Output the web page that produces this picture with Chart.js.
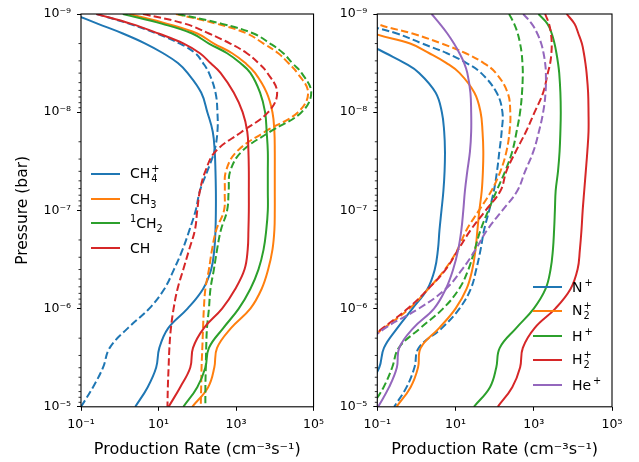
<!DOCTYPE html>
<html>
<head>
<meta charset="utf-8">
<script src="https://cdn.jsdelivr.net/npm/chart.js@4/dist/chart.umd.min.js"></script>
<style>
  body { margin: 0; background: #fff; }
  #wrap { position: relative; width: 639px; height: 462px; background: #fff; overflow: hidden; }
  canvas { position: absolute; top: 0; }
  .legend { position: absolute; font-family: 'DejaVu Sans', sans-serif; font-size: 14px; color: #000; }
  .legend .row { display: flex; align-items: center; height: 24.5px; white-space: nowrap; }
  .legend .swatch { width: 29px; height: 2px; margin-right: 10px; }
  .legend sub, .legend sup { font-size: 0.7em; line-height: 0; }
  .st { display: inline-flex; flex-direction: column; vertical-align: middle; font-size: 0.7em; line-height: 1; margin-left: 1px; }
  .st span { display: block; }
</style>
</head>
<body>
<div id="wrap">
  <canvas id="left" width="330" height="462" style="left:0"></canvas>
  <canvas id="right" width="309" height="462" style="left:330px"></canvas>
  <div id="legend-left" class="legend" style="left:91px; top:161.75px"></div>
  <div id="legend-right" class="legend" style="left:533px; top:274.25px"></div>
</div>
<script>
// pressure levels (bar) where the curves were read
const pressure = [1e-9, 1.26e-9, 1.58e-9, 2e-9, 2.51e-9, 3.16e-9, 3.98e-9, 6.31e-9, 1e-8, 1.58e-8, 2.51e-8, 3.98e-8,
                  6.31e-8, 1e-7, 1.58e-7, 2.51e-7, 3.98e-7, 6.31e-7, 1e-6, 1.58e-6, 2.51e-6, 3.98e-6, 6.31e-6, 1e-5];

// left panel, production rates (cm^-3 s^-1)
const ch4pSolid  = [0.063, 0.275, 1.2, 4.57, 13.2, 31.6, 56, 126, 182, 251, 282, 295, 302, 302, 295, 275, 229, 141, 56, 17.8, 10.5, 8.7, 5.25, 2.51];
const ch4pDashed = [0.25, 1.78, 8.9, 35.5, 89, 141, 200, 295, 331, 331, 275, 182, 117, 91, 63, 41.7, 25.1, 14.1, 5.75, 1.62, 0.55, 0.37, 0.204, 0.1];
const ch3Solid   = [1.78, 17, 100, 269, 794, 1740, 3090, 6170, 8710, 9770, 10000, 10000, 10000, 10000, 9770, 8710, 6760, 4570, 2340, 741, 324, 275, 191, 74];
const ch3Dashed  = [28.2, 324, 1905, 5130, 12300, 22400, 38000, 72400, 39800, 5620, 1050, 550, 513, 490, 309, 240, 200, 162, 148, 141, 135, 129, 126, 123];
const ch2Solid   = [1.2, 12.6, 74, 200, 589, 1290, 2340, 4170, 5620, 6170, 6610, 6610, 6610, 6610, 6030, 5130, 3800, 2340, 1175, 468, 200, 162, 100, 43.7];
const ch2Dashed  = [31.6, 437, 2820, 7590, 16600, 28200, 49000, 87100, 49000, 7590, 1410, 708, 646, 589, 407, 324, 269, 219, 200, 178, 170, 166, 162, 162];
const chSolid    = [0.25, 2.0, 10, 44.7, 117, 219, 398, 871, 1480, 1950, 2090, 2140, 2140, 2140, 2090, 2000, 1660, 955, 437, 148, 77.6, 66, 36.3, 18.2];
const chDashed   = [3.98, 50, 200, 708, 1905, 3800, 6460, 11500, 6760, 1410, 295, 162, 117, 100, 87, 61.7, 43.7, 30.9, 24.5, 20.9, 19.1, 18.2, 17.4, 17.0];

// right panel
const npSolid    = [0.001, 0.005, 0.02, 0.056, 0.166, 0.5, 1.17, 3.09, 4.47, 5.13, 5.37, 5.25, 4.9, 4.37, 3.89, 3.55, 2.95, 1.91, 0.79, 0.324, 0.148, 0.112, 0.056, 0.025];
const npDashed   = [0.0063, 0.04, 0.316, 1.41, 6.03, 19.1, 44.7, 112, 158, 151, 132, 115, 95.5, 72.4, 53.7, 43.7, 33.9, 24.5, 12.6, 4.47, 1.15, 0.89, 0.56, 0.27];
const n2pSolid   = [0.0063, 0.025, 0.083, 0.69, 2.14, 5.89, 12.6, 30.2, 43.7, 49, 51.3, 50.1, 46.8, 40.7, 36.3, 32.4, 26.9, 19.1, 10, 3.8, 1.29, 1.1, 0.71, 0.31];
const n2pDashed  = [0.04, 0.1, 0.79, 4.47, 18.2, 52.5, 107, 214, 251, 240, 200, 141, 83, 39.8, 19.1, 11.2, 5.37, 2.0, 0.66, 0.148, 0.032, 0.01, 0.0032, 0.001];
const hpSolid    = [1320, 2240, 2880, 3390, 3800, 4170, 4470, 4790, 4900, 4790, 4570, 4170, 3630, 3470, 3310, 3090, 2690, 2000, 1000, 355, 135, 110, 76, 29.5];
const hpDashed   = [234, 316, 389, 447, 490, 513, 525, 501, 447, 363, 282, 186, 112, 69, 43.7, 30.9, 21.4, 12.3, 4.79, 1.26, 0.355, 0.24, 0.145, 0.071];
const h2pSolid   = [6920, 11000, 13800, 17000, 19100, 20900, 22400, 24500, 25100, 25100, 23400, 21400, 19500, 17800, 16600, 15100, 13200, 8710, 3550, 1050, 525, 447, 282, 120];
const h2pDashed  = [1950, 2450, 2750, 2880, 2820, 2630, 2290, 1740, 1050, 631, 347, 200, 141, 58.9, 24.5, 11.7, 5.62, 2.0, 0.6, 0.138, 0.032, 0.01, 0.0032, 0.001];
const hepSolid   = [2.45, 3.98, 6.17, 9.12, 12.6, 16.6, 20, 24, 25.1, 25.1, 23.4, 20, 17.4, 15.8, 14.1, 11.7, 8.71, 5.62, 2.82, 0.83, 0.363, 0.316, 0.2, 0.105];
const hepDashed  = [537, 891, 1230, 1550, 1780, 1950, 2040, 2000, 1740, 1350, 977, 603, 380, 158, 64.6, 32.4, 14.8, 5.62, 1.15, 0.158, 0.04, 0.0126, 0.004, 0.0013];

// axes
const xTicks = [0.1, 10, 1000, 100000];
const xTickLabels = ['10⁻¹', '10¹', '10³', '10⁵'];
const yTicks = [1e-9, 1e-8, 1e-7, 1e-6, 1e-5];
const yTickLabels = ['10⁻⁹', '10⁻⁸', '10⁻⁷', '10⁻⁶', '10⁻⁵'];

const leftNames  = ['CH₄⁺', 'CH₃', '¹CH₂', 'CH'];
const leftMarkup = ['CH<span class="st"><span>+</span><span>4</span></span>', 'CH<sub>3</sub>', '<sup>1</sup>CH<sub>2</sub>', 'CH'];
const rightNames  = ['N⁺', 'N₂⁺', 'H⁺', 'H₂⁺', 'He⁺'];
const rightMarkup = ['N<sup>&thinsp;+</sup>', 'N<span class="st"><span>+</span><span>2</span></span>', 'H<sup>&thinsp;+</sup>',
                     'H<span class="st"><span>+</span><span>2</span></span>', 'He<sup>&thinsp;+</sup>'];

const blue = '#1f77b4', orange = '#ff7f0e', green = '#2ca02c', red = '#d62728', purple = '#9467bd';

Chart.defaults.font.family = "'DejaVu Sans', sans-serif";
Chart.defaults.color = '#000';

function curve(label, rates, color, dash) {
   return {
      label: label,
      data: rates.map((r, i) => ({ x: r, y: pressure[i] })),
      borderColor: color,
      backgroundColor: color,
      borderWidth: 2,
      borderDash: dash,
      pointRadius: 0,
      fill: false,
      tension: 0.4,
      clip: 0
   };
}

function buildSets(names, colors, solids, dashes) {
   var sets = [];
   for (let i = 0; i < names.length; i++) {
      sets.push(curve(names[i], solids[i], colors[i], []));
      sets.push(curve(names[i] + ' (dashed)', dashes[i], colors[i], [7.5, 3.3]));
   }
   // later curves on top, like matplotlib
   sets.forEach((s, i) => { s.order = -i; });
   return sets;
}

// full box and minor y ticks
var framePlugin = {
   id: 'frame',
   afterDraw(chart) {
      var ctx = chart.ctx, a = chart.chartArea, y = chart.scales.y;
      ctx.save();
      ctx.strokeStyle = '#000';
      ctx.lineWidth = 0.8;
      for (let e = -9; e < -5; e++) {
         for (let m = 2; m < 10; m++) {
            let py = y.getPixelForValue(m * Math.pow(10, e));
            ctx.beginPath();
            ctx.moveTo(a.left - 2.5, py);
            ctx.lineTo(a.left, py);
            ctx.stroke();
         }
      }
      ctx.lineWidth = 1.1;
      ctx.strokeRect(a.left, a.top, a.right - a.left, a.bottom - a.top);
      ctx.restore();
   }
};

function makeOptions(showYTitle, yWidth, padRight) {
   return {
      responsive: false,
      devicePixelRatio: 1,
      animation: false,
      indexAxis: 'y',
      layout: { padding: { left: 0, right: padRight, top: 14, bottom: 0 } },
      plugins: { legend: { display: false }, tooltip: { enabled: false } },
      scales: {
         x: {
            type: 'logarithmic',
            position: 'bottom',
            min: 0.1,
            max: 100000,
            afterBuildTicks: (s) => { s.ticks = xTicks.map(v => ({ value: v })); },
            afterFit: (s) => { s.height = 55.2; },
            ticks: {
               autoSkip: false, maxRotation: 0, padding: 6,
               font: { size: 12.5 }, color: '#000',
               callback: (v, i) => xTickLabels[i]
            },
            grid: { drawOnChartArea: false, drawTicks: true, tickLength: 4, tickColor: '#000', tickWidth: 1 },
            border: { display: false },
            title: {
               display: true,
               text: 'Production Rate (cm⁻³s⁻¹)',
               font: { size: 16 }, color: '#000',
               padding: { top: 0, bottom: 3 }
            }
         },
         y: {
            type: 'logarithmic',
            position: 'left',
            reverse: true,
            min: 1e-9,
            max: 1e-5,
            afterBuildTicks: (s) => { s.ticks = yTicks.map(v => ({ value: v })); },
            afterFit: (s) => { s.width = yWidth; },
            ticks: {
               autoSkip: false, padding: 6,
               font: { size: 12.5 }, color: '#000',
               callback: (v, i) => yTickLabels[i]
            },
            grid: { drawOnChartArea: false, drawTicks: true, tickLength: 4, tickColor: '#000', tickWidth: 1 },
            border: { display: false },
            title: {
               display: showYTitle,
               text: 'Pressure (bar)',
               font: { size: 15.5 }, color: '#000',
               padding: { top: 14, bottom: 0 }
            }
         }
      }
   };
}

function appendLegend(chart, el, markup) {
   var solids = chart.data.datasets.filter(ds => ds.borderDash.length === 0);
   solids.forEach((ds, i) => {
      var row = document.createElement('div');
      row.className = 'row';
      var sw = document.createElement('div');
      sw.className = 'swatch';
      sw.style.background = ds.borderColor;
      var txt = document.createElement('span');
      txt.innerHTML = markup[i];
      row.appendChild(sw);
      row.appendChild(txt);
      el.appendChild(row);
   });
}

var leftChart = new Chart(document.getElementById('left').getContext('2d'), {
   type: 'line',
   data: {
      datasets: buildSets(leftNames, [blue, orange, green, red],
                          [ch4pSolid, ch3Solid, ch2Solid, chSolid],
                          [ch4pDashed, ch3Dashed, ch2Dashed, chDashed])
   },
   options: makeOptions(true, 81, 14.3),
   plugins: [framePlugin]
});

var rightChart = new Chart(document.getElementById('right').getContext('2d'), {
   type: 'line',
   data: {
      datasets: buildSets(rightNames, [blue, orange, green, red, purple],
                          [npSolid, n2pSolid, hpSolid, h2pSolid, hepSolid],
                          [npDashed, n2pDashed, hpDashed, h2pDashed, hepDashed])
   },
   options: makeOptions(false, 47.3, 27),
   plugins: [framePlugin]
});

appendLegend(leftChart, document.getElementById('legend-left'), leftMarkup);
appendLegend(rightChart, document.getElementById('legend-right'), rightMarkup);
</script>
</body>
</html>
